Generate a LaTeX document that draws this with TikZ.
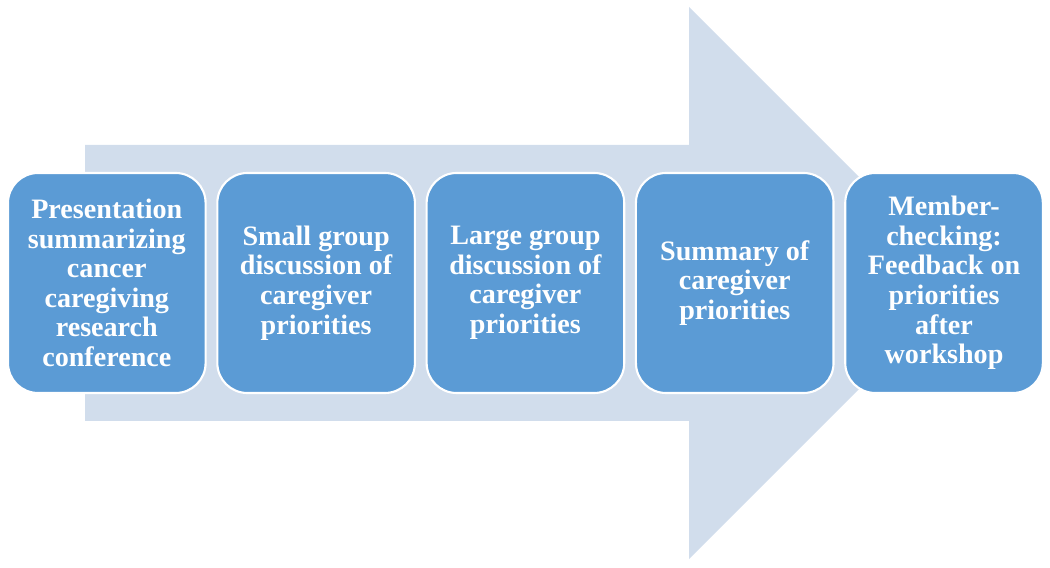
\documentclass[tikz,border=0pt]{standalone}
\usepackage{fontspec}
\setmainfont{Liberation Serif}
\usetikzlibrary{positioning}
\definecolor{stepblue}{RGB}{91,155,213}
\definecolor{arrowpale}{RGB}{209,221,236}

\tikzset{
  stepbox/.style={draw=white, line width=1.5pt, fill=stepblue, rounded corners=0.75cm,
    minimum width=4.94cm, minimum height=5.5cm, align=center, text=white,
    font=\bfseries\fontsize{20}{21}\selectfont},
}

\begin{document}
\begin{tikzpicture}
\useasboundingbox (0,0) rectangle (26.25,14.175);
%--- freccia di fondo ---
\fill[arrowpale] (2.125,10.55) -- (17.225,10.55) -- (17.225,14.0) -- (24.125,7.1)
  -- (17.225,0.2) -- (17.225,3.65) -- (2.125,3.65) -- cycle;
%--- fasi ---
\node[stepbox] (present) at (2.67,7.1) {Presentation\\summarizing\\cancer\\caregiving\\research\\conference};
\node[stepbox, right=0.24cm of present] (smallgrp) {Small group\\discussion of\\caregiver\\priorities};
\node[stepbox, right=0.24cm of smallgrp] (largegrp) {Large group\\discussion of\\caregiver\\priorities};
\node[stepbox, right=0.24cm of largegrp] (summary) {Summary of\\caregiver\\priorities};
\node[stepbox, right=0.24cm of summary] (member) {Member-\\checking:\\Feedback on\\priorities\\after\\workshop};
\end{tikzpicture}
\end{document}
